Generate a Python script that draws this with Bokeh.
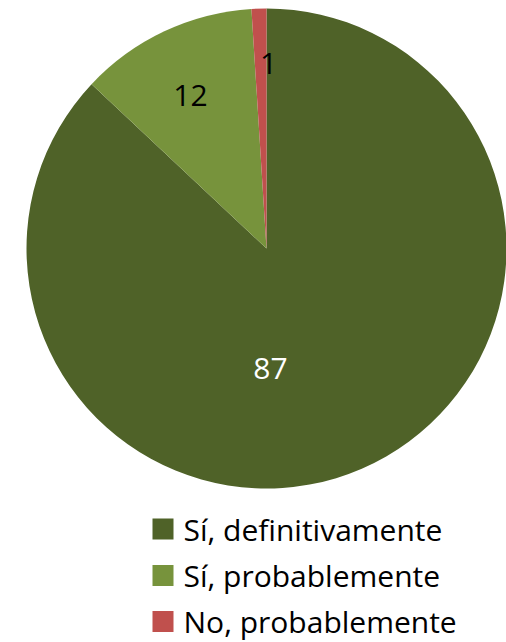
import math
from bokeh.plotting import figure
from bokeh.models import Range1d, ColumnDataSource
from bokeh.core.properties import value
from bokeh.embed import file_html
from bokeh.resources import INLINE

categories = ["Sí, definitivamente", "Sí, probablemente", "No, probablemente"]
values = [87, 12, 1]
labels = ["87", "12", "1"]
colors = ["#4F6228", "#77933C", "#C0504D"]
label_colors = ["white", "black", "black"]

W, H = 506, 642
p = figure(width=W, height=H, output_backend="svg", toolbar_location=None,
           x_range=Range1d(0, W), y_range=Range1d(0, H), min_border=0)
p.axis.visible = False
p.grid.visible = False
p.outline_line_color = None
p.background_fill_color = "white"

cx, cy, r = 266, 394, 240
total = sum(values)
starts, ends = [], []
a = math.pi / 2
for v in values:
    starts.append(a)
    a -= 2 * math.pi * v / total
    ends.append(a)

src = ColumnDataSource(dict(start=starts, end=ends, color=colors))
p.wedge(x=cx, y=cy, radius=r, start_angle="start", end_angle="end",
        direction="clock", fill_color="color", line_color=None, source=src)

# data label positions (layout)
lx = [270, 190, 268]
ly = [274.5, 547.5, 579.5]
p.text(x=lx, y=ly, text=labels, text_color=label_colors,
       text_font=value("Open Sans"), text_font_size="30px",
       text_align="center", text_baseline="middle")

# legend
leg_y = [113.5, 67, 21]
p.rect(x=[162.5] * 3, y=leg_y, width=21, height=21, fill_color=colors, line_color=None)
p.text(x=[183] * 3, y=leg_y, text=categories, text_color="black",
       text_font=value("Open Sans"), text_font_size="30px",
       text_align="left", text_baseline="middle")

open("out.html", "w").write(file_html(p, INLINE))
